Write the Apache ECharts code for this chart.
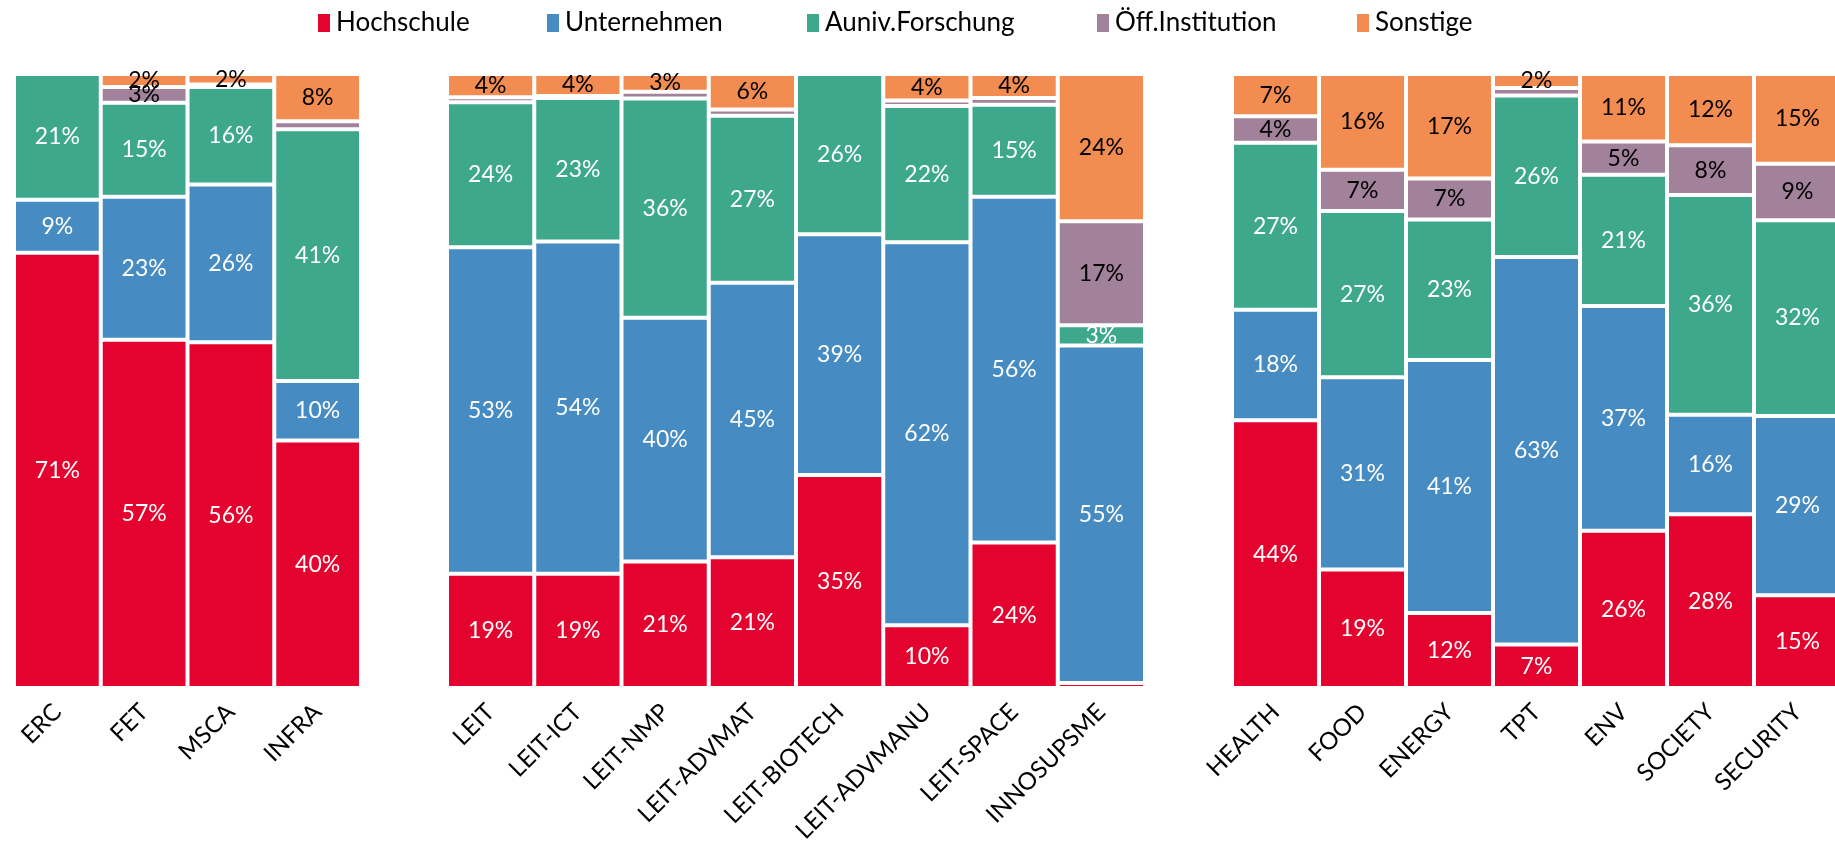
<!DOCTYPE html>
<html>
<head>
<meta charset="utf-8">
<script src="https://cdn.jsdelivr.net/npm/echarts@6/dist/echarts.min.js"></script>
<style>
  html, body { margin: 0; padding: 0; background: #fff; }
  #chart { width: 1835px; height: 841px; }
</style>
</head>
<body>
<div id="chart"></div>
<script>
// Programme groups (categories of the three panels)
const catsBasic = ['ERC', 'FET', 'MSCA', 'INFRA'];
const catsLeit = ['LEIT', 'LEIT-ICT', 'LEIT-NMP', 'LEIT-ADVMAT', 'LEIT-BIOTECH', 'LEIT-ADVMANU', 'LEIT-SPACE', 'INNOSUPSME'];
const catsSociety = ['HEALTH', 'FOOD', 'ENERGY', 'TPT', 'ENV', 'SOCIETY', 'SECURITY'];

const seriesNames = ['Hochschule', 'Unternehmen', 'Auniv.Forschung', 'Öff.Institution', 'Sonstige'];

// Shares in percent, in the order catsBasic + catsLeit + catsSociety
const hochschule  = [70.9, 56.7, 56.3, 40.3,  18.6, 18.6, 20.6, 21.3, 34.7, 10.2, 23.7, 0.8,  43.6, 19.3, 12.2, 7.1, 25.6, 28.3, 15.1];
const unternehmen = [8.6, 23.3, 25.7, 9.7,    53.2, 54.1, 39.7, 44.7, 39.2, 62.4, 56.3, 55.0, 18.0, 31.3, 41.2, 63.1, 36.6, 16.2, 29.2];
const aunivForsch = [20.5, 15.3, 15.9, 41.0,  23.6, 23.4, 35.7, 27.2, 26.1, 22.2, 15.0, 3.3,  27.2, 27.1, 22.9, 26.3, 21.4, 35.8, 31.9];
const oeffInst    = [0, 2.6, 0.4, 1.3,        0.8, 0.3, 1.1, 1.0, 0, 0.9, 1.1, 16.9,          4.3, 6.7, 6.7, 1.2, 5.4, 8.1, 9.2];
const sonstige    = [0, 2.1, 1.7, 7.7,        3.8, 3.6, 2.9, 5.8, 0, 4.3, 3.9, 24.0,          6.9, 15.6, 17.0, 2.3, 11.0, 11.6, 14.6];

const colors = ['#E4032F', '#468BC1', '#3DA88B', '#A2829B', '#F28C50'];
const labelColors = ['#ffffff', '#ffffff', '#ffffff', '#000000', '#000000'];
const FONT = 'Lato';

const allSeries = [hochschule, unternehmen, aunivForsch, oeffInst, sonstige];
const panels = [
  { cats: catsBasic, left: 14, width: 347 },
  { cats: catsLeit, left: 447, width: 698 },
  { cats: catsSociety, left: 1232, width: 609 }
];

const grids = [], xAxes = [], yAxes = [], series = [];
let offset = 0;
panels.forEach((p, pi) => {
  grids.push({ left: p.left, width: p.width, top: 74, height: 614, outerBoundsMode: 'none', containLabel: false });
  xAxes.push({
    type: 'category', gridIndex: pi, data: p.cats,
    axisLine: { show: false }, axisTick: { show: false },
    axisLabel: { rotate: 45, margin: 20, color: '#000', fontSize: 24, fontFamily: FONT, interval: 0 }
  });
  yAxes.push({ type: 'value', gridIndex: pi, min: 0, max: 100, show: false });
  seriesNames.forEach((name, si) => {
    series.push({
      name: name, type: 'bar', stack: 'panel' + pi,
      xAxisIndex: pi, yAxisIndex: pi,
      barCategoryGap: '0%',
      data: allSeries[si].slice(offset, offset + p.cats.length),
      itemStyle: { color: colors[si], borderColor: '#ffffff', borderWidth: 2 },
      label: {
        show: true, position: 'inside', color: labelColors[si],
        fontSize: 23, fontFamily: FONT,
        formatter: (d) => d.value >= 1.5 ? Math.round(d.value) + '%' : ''
      }
    });
  });
  offset += p.cats.length;
});

// One legend entry per series, each placed along the top row
const legendLeft = [311, 540, 800, 1090, 1350];
const legends = seriesNames.map((name, i) => ({
  data: [name], top: 5, left: legendLeft[i],
  icon: 'rect', itemWidth: 14, itemHeight: 20,
  textStyle: { fontSize: 26, fontFamily: FONT, color: '#000' }
}));

const chart = echarts.init(document.getElementById('chart'));
chart.setOption({
  animation: false,
  color: colors,
  legend: legends,
  grid: grids, xAxis: xAxes, yAxis: yAxes, series: series
});
</script>
</body>
</html>
